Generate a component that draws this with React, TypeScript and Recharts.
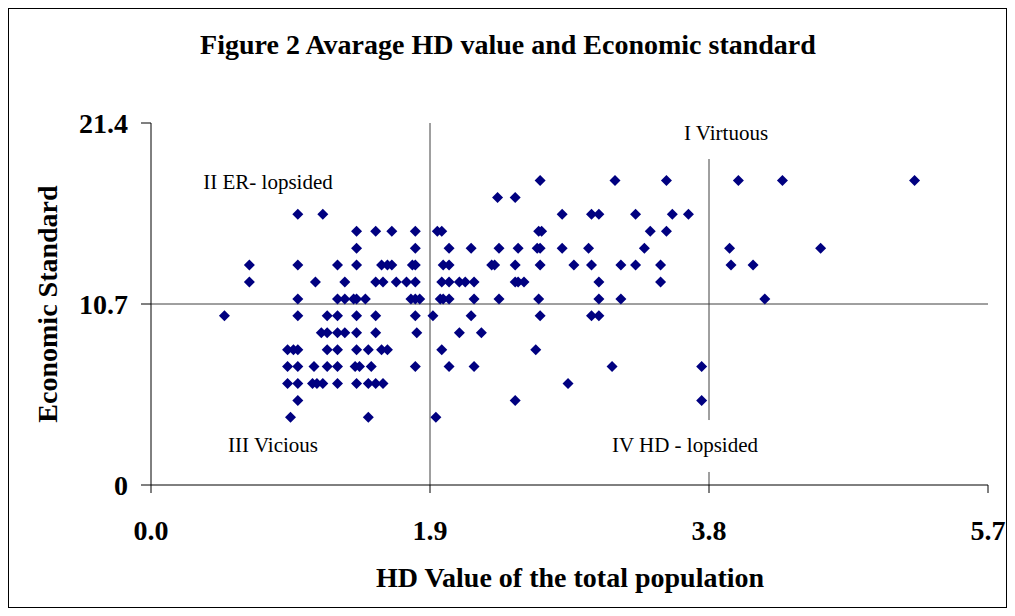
import React from "react";
import {
  ScatterChart,
  Scatter,
  XAxis,
  YAxis,
  ReferenceLine,
} from "recharts";

// x positions (HD value) for each economic standard level
const row18 = [2.65, 3.16, 3.51, 4.0, 4.3, 5.2];
const row17 = [2.36, 2.48];
const row16 = [1.0, 1.17, 2.8, 3.0, 3.05, 3.3, 3.55, 3.66];
const row15 = [1.4, 1.53, 1.64, 1.8, 1.95, 1.98, 2.64, 2.66, 3.4, 3.51];
const row14 = [1.4, 1.8, 2.03, 2.18, 2.37, 2.5, 2.63, 2.65, 2.8, 2.98, 3.36, 3.94, 4.56];
const row13 = [
  0.67, 1.0, 1.27, 1.4, 1.57, 1.61, 1.64, 1.78, 1.8, 1.99, 2.03, 2.32, 2.34, 2.48, 2.65, 2.88,
  3.0, 3.2, 3.3, 3.47, 3.95, 4.1,
];
const row12 = [
  0.67, 1.12, 1.32, 1.53, 1.58, 1.67, 1.74, 1.8, 1.98, 2.03, 2.1, 2.14, 2.2, 2.48, 2.5, 2.54,
  3.05, 3.47,
];
const row11 = [
  1.0, 1.27, 1.32, 1.38, 1.4, 1.46, 1.77, 1.8, 1.83, 1.97, 1.99, 2.03, 2.2, 2.37, 2.64, 3.05,
  3.2, 4.18,
];
const row10 = [0.5, 1.0, 1.2, 1.27, 1.4, 1.53, 1.8, 1.92, 2.18, 2.65, 3.0, 3.05];
const row9 = [1.16, 1.2, 1.27, 1.32, 1.4, 1.53, 1.81, 2.1, 2.25];
const row8 = [0.93, 0.97, 1.0, 1.2, 1.27, 1.4, 1.48, 1.57, 1.61, 1.98, 2.62];
const row7 = [0.93, 1.0, 1.11, 1.2, 1.27, 1.39, 1.42, 1.5, 1.8, 2.03, 2.2, 3.14, 3.75];
const row6 = [0.93, 1.0, 1.1, 1.13, 1.17, 1.27, 1.4, 1.48, 1.53, 1.58, 2.84];
const row5 = [1.0, 2.48, 3.75];
const row4 = [0.95, 1.48, 1.94];

const rows: [number, number[]][] = [
  [18, row18], [17, row17], [16, row16], [15, row15], [14, row14], [13, row13],
  [12, row12], [11, row11], [10, row10], [9, row9], [8, row8], [7, row7],
  [6, row6], [5, row5], [4, row4],
];

const xTicks = [0, 1.9, 3.8, 5.7];
const yTicks = [0, 10.7, 21.4];

const points = rows.flatMap(([y, xs]) => xs.map((x) => ({ x, y })));

const SERIF = "'Liberation Serif', 'Times New Roman', serif";
const NAVY = "#000080";
const LINE = "#404040";

const tickStyle = { fontFamily: SERIF, fontWeight: 700, fontSize: 28, fill: "#000" };

const Diamond = (props: any) => {
  const { cx, cy } = props;
  const r = 5.5;
  return (
    <polygon
      points={`${cx},${cy - r} ${cx + r},${cy} ${cx},${cy + r} ${cx - r},${cy}`}
      fill={NAVY}
    />
  );
};

const text = (
  value: string,
  cx: number,
  cy: number,
  size: number,
  bold: boolean,
  rotate = false
) => (
  <div
    style={{
      position: "absolute",
      left: cx,
      top: cy,
      transform: `translate(-50%, -50%)${rotate ? " rotate(-90deg)" : ""}`,
      fontFamily: SERIF,
      fontSize: size,
      fontWeight: bold ? 700 : 400,
      lineHeight: 1,
      whiteSpace: "nowrap",
      color: "#000",
    }}
  >
    {value}
  </div>
);

export default function App() {
  return (
    <div
      style={{
        position: "absolute",
        left: 0,
        top: 0,
        width: 1015,
        height: 616,
        background: "#fff",
        overflow: "hidden",
      }}
    >
      <div
        style={{
          position: "absolute",
          left: 8,
          top: 8,
          width: 999,
          height: 600,
          border: "1px solid #000",
          boxSizing: "border-box",
        }}
      />
      <ScatterChart
        width={1015}
        height={616}
        margin={{ top: 123, right: 27, bottom: 71, left: 71 }}
        style={{ position: "absolute", left: 0, top: 0 }}
      >
        <XAxis
          type="number"
          dataKey="x"
          domain={[0, 5.7]}
          ticks={xTicks}
          tickFormatter={(v: number) => v.toFixed(1)}
          height={60}
          tickSize={8}
          tickMargin={27}
          axisLine={{ stroke: "#000" }}
          tickLine={{ stroke: "#000" }}
          tick={tickStyle}
          allowDataOverflow
        />
        <YAxis
          type="number"
          dataKey="y"
          domain={[0, 21.4]}
          ticks={yTicks}
          tickFormatter={(v: number) => String(v)}
          width={80}
          tickSize={10}
          tickMargin={13}
          axisLine={{ stroke: "#000" }}
          tickLine={{ stroke: "#000" }}
          tick={tickStyle}
          allowDataOverflow
        />
        <ReferenceLine y={10.7} stroke={LINE} />
        <ReferenceLine x={1.9} stroke={LINE} />
        <ReferenceLine
          segment={[
            { x: 3.8, y: 3.84 },
            { x: 3.8, y: 19.27 },
          ]}
          stroke={LINE}
        />
        <ReferenceLine
          segment={[
            { x: 3.8, y: 0 },
            { x: 3.8, y: 0.77 },
          ]}
          stroke={LINE}
        />
        <Scatter data={points} shape={Diamond} isAnimationActive={false} />
      </ScatterChart>
      {text("Figure 2 Avarage HD value and Economic standard", 508, 45, 28, true)}
      {text("HD Value of the total population", 570, 578, 28, true)}
      {text("Economic Standard", 48, 304, 28, true, true)}
      {text("II ER- lopsided", 268, 182, 21, false)}
      {text("III Vicious", 273, 445, 21, false)}
      {text("IV HD - lopsided", 685, 445, 21, false)}
      {text("I Virtuous", 726, 133, 21, false)}
    </div>
  );
}
